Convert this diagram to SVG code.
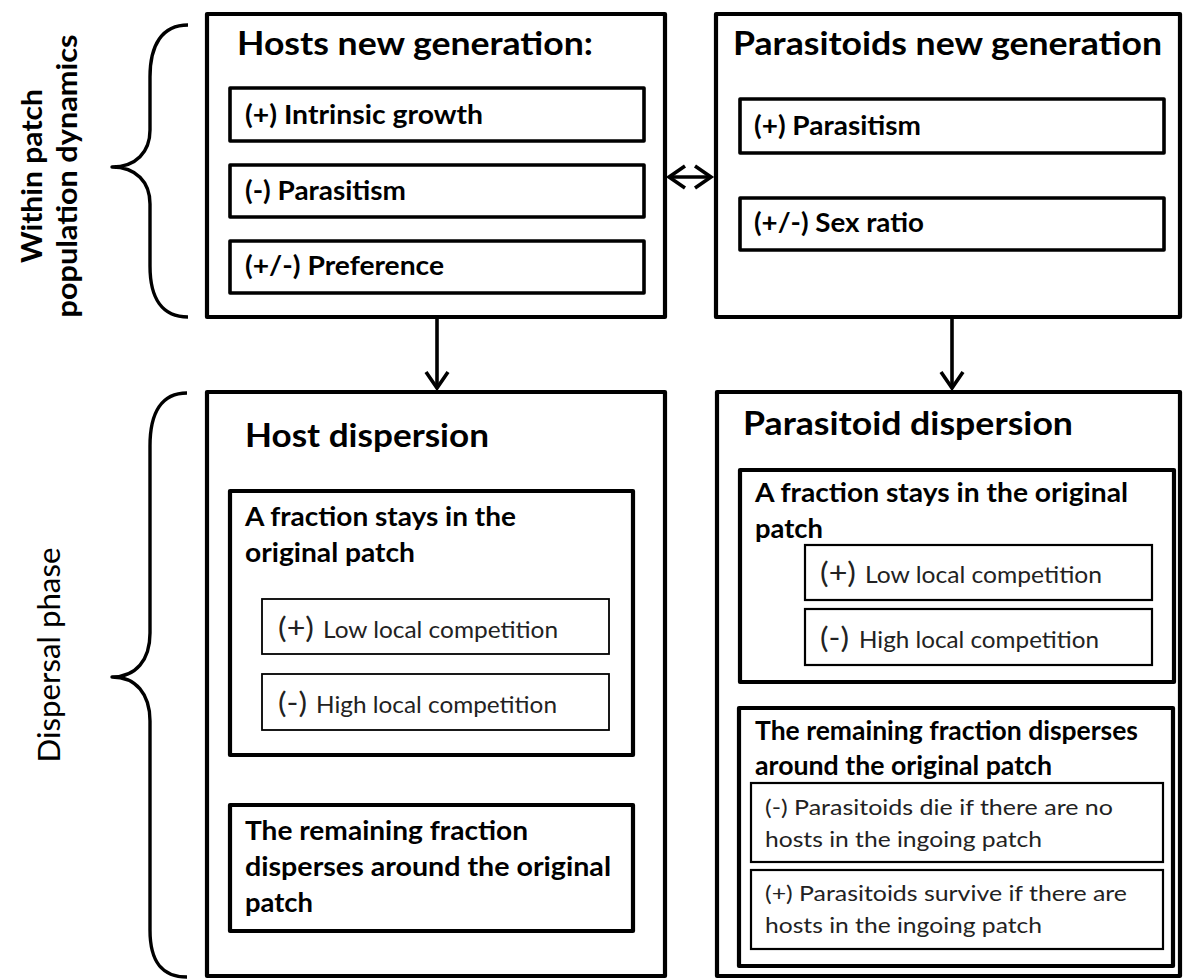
<svg xmlns="http://www.w3.org/2000/svg" width="1184" height="980" viewBox="0 0 1184 980">
  <defs>
    <style>
      .outer { fill: #fff; stroke: #000; stroke-width: 4.2; stroke-linejoin: round; }
      .inner { fill: #fff; stroke: #000; stroke-width: 3.6; stroke-linejoin: round; }
      .thin  { fill: #fff; stroke: #000; stroke-width: 1.8; }
      .mid   { fill: #fff; stroke: #000; stroke-width: 2.2; }
      .brace { fill: none; stroke: #000; stroke-width: 3.4; stroke-linejoin: round; }
      .conn  { fill: none; stroke: #000; stroke-width: 3.6; }
      text { font-family: Lato, "Liberation Sans", sans-serif; }
      .title { font-size: 32px; font-weight: 700; fill: #000; }
      .bold  { font-size: 26px; font-weight: 700; fill: #000; }
      .reg   { font-size: 23px; font-weight: 400; fill: #222; }
      .small { font-size: 21px; font-weight: 400; fill: #222; }
      .sign  { font-size: 28px; font-weight: 400; fill: #222; }
      .side-b { font-size: 29px; font-weight: 700; fill: #000; }
      .side-r { font-size: 30px; font-weight: 400; fill: #000; }
    </style>
    <marker id="chev" viewBox="0 0 20 24" refX="17" refY="12" markerWidth="20" markerHeight="24"
            markerUnits="userSpaceOnUse" orient="auto-start-reverse" overflow="visible">
      <path d="M1,1 L17,12 L1,23" fill="none" stroke="#000" stroke-width="3.6" stroke-linejoin="miter"/>
    </marker>
  </defs>

  <rect x="0" y="0" width="1184" height="980" fill="#fff"/>

  <!-- phase brackets on the left -->
  <g id="phase-within">
    <path class="brace" d="M188,25 C162,25 150,45 150,77 L150,130 C150,152 136,167 112,167 C136,167 150,182 150,204 L150,266 C150,298 162,317 188,317"/>
    <text class="side-b" transform="translate(42,176) rotate(-90)" text-anchor="middle" textLength="174" lengthAdjust="spacingAndGlyphs">Within patch</text>
    <text class="side-b" transform="translate(77,176) rotate(-90)" text-anchor="middle" textLength="283" lengthAdjust="spacingAndGlyphs">population dynamics</text>
  </g>
  <g id="phase-dispersal">
    <path class="brace" d="M187,393 C162,393 150,412 150,446 L150,633 C150,660 136,677 112,677 C136,677 150,694 150,721 L150,930 C150,962 162,977 187,977"/>
    <text class="side-r" transform="translate(60,655) rotate(-90)" text-anchor="middle" textLength="215" lengthAdjust="spacingAndGlyphs">Dispersal phase</text>
  </g>

  <!-- host reproduction -->
  <g id="hosts-generation">
    <rect class="outer" x="207" y="14" width="458" height="303"/>
    <text class="title" x="237" y="55" textLength="356" lengthAdjust="spacingAndGlyphs">Hosts new generation:</text>
    <rect class="inner" x="230" y="88" width="414" height="53"/>
    <text class="bold" x="245" y="124" textLength="238" lengthAdjust="spacingAndGlyphs">(+) Intrinsic growth</text>
    <rect class="inner" x="230" y="165" width="414" height="52"/>
    <text class="bold" x="245" y="200" textLength="161" lengthAdjust="spacingAndGlyphs">(-) Parasitism</text>
    <rect class="inner" x="230" y="241" width="414" height="52"/>
    <text class="bold" x="245" y="275" textLength="199" lengthAdjust="spacingAndGlyphs">(+/-) Preference</text>
  </g>

  <!-- parasitoid reproduction -->
  <g id="parasitoids-generation">
    <rect class="outer" x="716" y="14" width="464" height="303"/>
    <text class="title" x="733" y="55" textLength="429" lengthAdjust="spacingAndGlyphs">Parasitoids new generation</text>
    <rect class="inner" x="740" y="99" width="424" height="54"/>
    <text class="bold" x="754" y="135" textLength="167" lengthAdjust="spacingAndGlyphs">(+) Parasitism</text>
    <rect class="inner" x="740" y="198" width="424" height="52"/>
    <text class="bold" x="754" y="232" textLength="170" lengthAdjust="spacingAndGlyphs">(+/-) Sex ratio</text>
  </g>

  <!-- host dispersal -->
  <g id="host-dispersion">
    <rect class="outer" x="207" y="392" width="458" height="584"/>
    <text class="title" x="245" y="447" textLength="244" lengthAdjust="spacingAndGlyphs">Host dispersion</text>
    <g id="host-stay">
      <rect class="outer" x="230" y="491" width="403" height="264"/>
      <text class="bold" x="245" y="526" textLength="271" lengthAdjust="spacingAndGlyphs">A fraction stays in the</text>
      <text class="bold" x="245" y="562" textLength="170" lengthAdjust="spacingAndGlyphs">original patch</text>
      <rect class="thin" x="262" y="599" width="347" height="55"/>
      <text class="sign" x="278" y="638" textLength="36" lengthAdjust="spacingAndGlyphs">(+)</text>
      <text class="reg" x="323" y="638" textLength="235" lengthAdjust="spacingAndGlyphs">Low local competition</text>
      <rect class="thin" x="262" y="674" width="347" height="56"/>
      <text class="sign" x="278" y="713" textLength="29" lengthAdjust="spacingAndGlyphs">(-)</text>
      <text class="reg" x="316" y="713" textLength="241" lengthAdjust="spacingAndGlyphs">High local competition</text>
    </g>
    <g id="host-leave">
      <rect class="outer" x="230" y="805" width="403" height="126"/>
      <text class="bold" x="245" y="840" textLength="283" lengthAdjust="spacingAndGlyphs">The remaining fraction</text>
      <text class="bold" x="245" y="876" textLength="366" lengthAdjust="spacingAndGlyphs">disperses around the original</text>
      <text class="bold" x="245" y="912" textLength="68" lengthAdjust="spacingAndGlyphs">patch</text>
    </g>
  </g>

  <!-- parasitoid dispersal -->
  <g id="parasitoid-dispersion">
    <rect class="outer" x="717" y="392" width="463" height="584"/>
    <text class="title" x="743" y="435" textLength="330" lengthAdjust="spacingAndGlyphs">Parasitoid dispersion</text>
    <g id="parasitoid-stay">
      <rect class="outer" x="740" y="470" width="434" height="212"/>
      <text class="bold" x="755" y="502" textLength="373" lengthAdjust="spacingAndGlyphs">A fraction stays in the original</text>
      <text class="bold" x="755" y="538" textLength="68" lengthAdjust="spacingAndGlyphs">patch</text>
      <rect class="mid" x="805" y="545" width="347" height="55"/>
      <text class="sign" x="820" y="583" textLength="36" lengthAdjust="spacingAndGlyphs">(+)</text>
      <text class="reg" x="865" y="583" textLength="237" lengthAdjust="spacingAndGlyphs">Low local competition</text>
      <rect class="mid" x="805" y="609" width="347" height="56"/>
      <text class="sign" x="820" y="648" textLength="29" lengthAdjust="spacingAndGlyphs">(-)</text>
      <text class="reg" x="859" y="648" textLength="240" lengthAdjust="spacingAndGlyphs">High local competition</text>
    </g>
    <g id="parasitoid-leave">
      <rect class="outer" x="739" y="708" width="434" height="258"/>
      <text class="bold" x="755" y="740" textLength="383" lengthAdjust="spacingAndGlyphs">The remaining fraction disperses</text>
      <text class="bold" x="755" y="775" textLength="297" lengthAdjust="spacingAndGlyphs">around the original patch</text>
      <rect class="mid" x="751" y="783" width="412" height="79"/>
      <text class="small" x="765" y="815" textLength="348" lengthAdjust="spacingAndGlyphs">(-) Parasitoids die if there are no</text>
      <text class="small" x="765" y="847" textLength="277" lengthAdjust="spacingAndGlyphs">hosts in the ingoing patch</text>
      <rect class="mid" x="751" y="870" width="412" height="79"/>
      <text class="small" x="765" y="901" textLength="362" lengthAdjust="spacingAndGlyphs">(+) Parasitoids survive if there are</text>
      <text class="small" x="765" y="933" textLength="277" lengthAdjust="spacingAndGlyphs">hosts in the ingoing patch</text>
    </g>
  </g>

  <!-- connectors -->
  <g id="connectors">
    <line class="conn" x1="669" y1="177" x2="711" y2="177" marker-start="url(#chev)" marker-end="url(#chev)"/>
    <line class="conn" x1="437" y1="319" x2="437" y2="388" marker-end="url(#chev)"/>
    <line class="conn" x1="952" y1="319" x2="952" y2="388" marker-end="url(#chev)"/>
  </g>
</svg>
